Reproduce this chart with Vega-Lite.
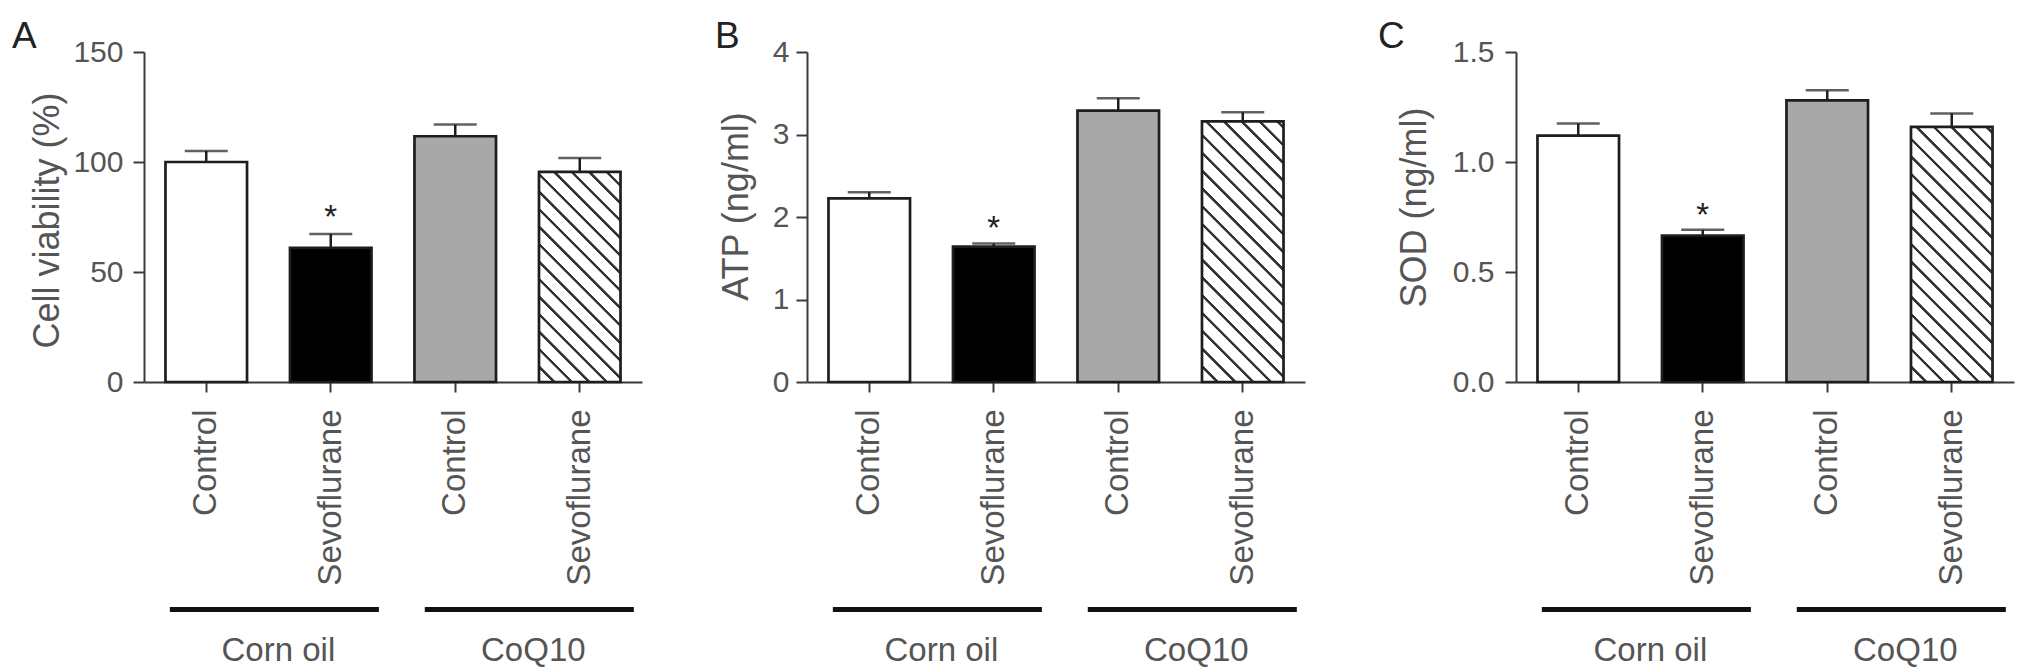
{
  "$schema": "https://vega.github.io/schema/vega-lite/v6.json",
  "padding": {"left": 12, "top": 18, "right": 5, "bottom": 0},
  "background": "white",
  "datasets": {
    "A": [
      {"group": "Corn oil", "cond": "Corn oil|Control", "value": 100, "upper": 105, "star": ""},
      {"group": "Corn oil", "cond": "Corn oil|Sevoflurane", "value": 61, "upper": 67.3, "star": "*"},
      {"group": "CoQ10", "cond": "CoQ10|Control", "value": 111.7, "upper": 117, "star": ""},
      {"group": "CoQ10", "cond": "CoQ10|Sevoflurane", "value": 95.5, "upper": 101.8, "star": ""}
    ],
    "B": [
      {"group": "Corn oil", "cond": "Corn oil|Control", "value": 2.225, "upper": 2.3, "star": ""},
      {"group": "Corn oil", "cond": "Corn oil|Sevoflurane", "value": 1.64, "upper": 1.68, "star": "*"},
      {"group": "CoQ10", "cond": "CoQ10|Control", "value": 3.29, "upper": 3.44, "star": ""},
      {"group": "CoQ10", "cond": "CoQ10|Sevoflurane", "value": 3.16, "upper": 3.27, "star": ""}
    ],
    "C": [
      {"group": "Corn oil", "cond": "Corn oil|Control", "value": 1.12, "upper": 1.175, "star": ""},
      {"group": "Corn oil", "cond": "Corn oil|Sevoflurane", "value": 0.666, "upper": 0.692, "star": "*"},
      {"group": "CoQ10", "cond": "CoQ10|Control", "value": 1.28, "upper": 1.326, "star": ""},
      {"group": "CoQ10", "cond": "CoQ10|Sevoflurane", "value": 1.16, "upper": 1.221, "star": ""}
    ],
    "groups": [
      {"group": "Corn oil"},
      {"group": "CoQ10"}
    ]
  },
  "hconcat": [
    {
      "spacing": 21,
      "vconcat": [
        {
          "width": 498, "height": 330,
          "title": {"text": "A", "dx": -132, "dy": 23},
          "data": {"name": "A"},
          "encoding": {
            "x": {"field": "cond", "type": "nominal", "sort": null,
              "scale": {"domain": ["Corn oil|Control", "Corn oil|Sevoflurane", "CoQ10|Control", "CoQ10|Sevoflurane"], "paddingInner": 0.345, "paddingOuter": 0.1725},
              "axis": {"title": null, "labelAngle": -90, "labelFontSize": 33, "tickSize": 10, "labelPadding": 17, "labelExpr": "split(datum.label, '|')[1]"}}
          },
          "layer": [
            {
              "mark": {"type": "bar", "stroke": "#1e1e1e", "strokeWidth": 2.7},
              "encoding": {
                "y": {"field": "value", "type": "quantitative", "title": "Cell viability (%)",
                  "scale": {"domain": [0, 150], "nice": false},
                  "axis": {"values": [0, 50, 100, 150], "format": "d", "labelPadding": 10, "titlePadding": 6, "titleY": 168}},
                "fill": {
                  "condition": [
                    {"test": "datum.cond === 'Corn oil|Sevoflurane'", "value": "#000000"},
                    {"test": "datum.cond === 'CoQ10|Control'", "value": "#a8a8a8"},
                    {"test": "datum.cond === 'CoQ10|Sevoflurane'", "value": {"gradient": "linear", "x1": 0, "y1": 1, "x2": 0.4686, "y2": -0.2064, "stops": [
                      {"offset": 0, "color": "#ffffff"}, {"offset": 0.0456, "color": "#ffffff"}, {"offset": 0.048, "color": "#333333"}, {"offset": 0.0576, "color": "#333333"},
                      {"offset": 0.06, "color": "#ffffff"}, {"offset": 0.1056, "color": "#ffffff"}, {"offset": 0.108, "color": "#333333"}, {"offset": 0.1176, "color": "#333333"},
                      {"offset": 0.12, "color": "#ffffff"}, {"offset": 0.1656, "color": "#ffffff"}, {"offset": 0.168, "color": "#333333"}, {"offset": 0.1776, "color": "#333333"},
                      {"offset": 0.18, "color": "#ffffff"}, {"offset": 0.2256, "color": "#ffffff"}, {"offset": 0.228, "color": "#333333"}, {"offset": 0.2376, "color": "#333333"},
                      {"offset": 0.24, "color": "#ffffff"}, {"offset": 0.2856, "color": "#ffffff"}, {"offset": 0.288, "color": "#333333"}, {"offset": 0.2976, "color": "#333333"},
                      {"offset": 0.30, "color": "#ffffff"}, {"offset": 0.3456, "color": "#ffffff"}, {"offset": 0.348, "color": "#333333"}, {"offset": 0.3576, "color": "#333333"},
                      {"offset": 0.36, "color": "#ffffff"}, {"offset": 0.4056, "color": "#ffffff"}, {"offset": 0.408, "color": "#333333"}, {"offset": 0.4176, "color": "#333333"},
                      {"offset": 0.42, "color": "#ffffff"}, {"offset": 0.4656, "color": "#ffffff"}, {"offset": 0.468, "color": "#333333"}, {"offset": 0.4776, "color": "#333333"},
                      {"offset": 0.48, "color": "#ffffff"}, {"offset": 0.5256, "color": "#ffffff"}, {"offset": 0.528, "color": "#333333"}, {"offset": 0.5376, "color": "#333333"},
                      {"offset": 0.54, "color": "#ffffff"}, {"offset": 0.5856, "color": "#ffffff"}, {"offset": 0.588, "color": "#333333"}, {"offset": 0.5976, "color": "#333333"},
                      {"offset": 0.60, "color": "#ffffff"}, {"offset": 0.6456, "color": "#ffffff"}, {"offset": 0.648, "color": "#333333"}, {"offset": 0.6576, "color": "#333333"},
                      {"offset": 0.66, "color": "#ffffff"}, {"offset": 0.7056, "color": "#ffffff"}, {"offset": 0.708, "color": "#333333"}, {"offset": 0.7176, "color": "#333333"},
                      {"offset": 0.72, "color": "#ffffff"}, {"offset": 0.7656, "color": "#ffffff"}, {"offset": 0.768, "color": "#333333"}, {"offset": 0.7776, "color": "#333333"},
                      {"offset": 0.78, "color": "#ffffff"}, {"offset": 0.8256, "color": "#ffffff"}, {"offset": 0.828, "color": "#333333"}, {"offset": 0.8376, "color": "#333333"},
                      {"offset": 0.84, "color": "#ffffff"}, {"offset": 0.8856, "color": "#ffffff"}, {"offset": 0.888, "color": "#333333"}, {"offset": 0.8976, "color": "#333333"},
                      {"offset": 0.90, "color": "#ffffff"}, {"offset": 0.9456, "color": "#ffffff"}, {"offset": 0.948, "color": "#333333"}, {"offset": 0.9576, "color": "#333333"},
                      {"offset": 0.96, "color": "#ffffff"}, {"offset": 1, "color": "#ffffff"}
                    ]}}
                  ],
                  "value": "#ffffff"
                }
              }
            },
            {
              "mark": {"type": "rule", "color": "#1e1e1e", "strokeWidth": 2.5},
              "encoding": {"y": {"field": "value", "type": "quantitative", "title": "Cell viability (%)"}, "y2": {"field": "upper"}}
            },
            {
              "mark": {"type": "tick", "color": "#1e1e1e", "thickness": 2.5, "size": 43},
              "encoding": {"y": {"field": "upper", "type": "quantitative", "title": "Cell viability (%)"}}
            },
            {
              "mark": {"type": "text", "fontSize": 33, "color": "#222222", "baseline": "alphabetic", "dy": -6},
              "encoding": {"y": {"field": "upper", "type": "quantitative", "title": "Cell viability (%)"}, "text": {"field": "star"}}
            }
          ]
        },
        {
          "width": 498, "height": 5,
          "data": {"name": "groups"},
          "mark": {"type": "bar", "color": "#111111"},
          "encoding": {
            "x": {"field": "group", "type": "nominal", "sort": null,
              "scale": {"domain": ["Corn oil", "CoQ10"], "paddingInner": 0.18, "paddingOuter": 0.0667, "align": 0.76},
              "axis": {"title": null, "domain": false, "ticks": false, "tickSize": 0, "labelAngle": 0, "labelFontSize": 33, "labelPadding": 22, "labelOffset": 4}}
          }
        }
      ]
    },
    {
      "spacing": 21,
      "vconcat": [
        {
          "width": 498, "height": 330,
          "title": {"text": "B", "dx": -92, "dy": 23},
          "data": {"name": "B"},
          "encoding": {
            "x": {"field": "cond", "type": "nominal", "sort": null,
              "scale": {"domain": ["Corn oil|Control", "Corn oil|Sevoflurane", "CoQ10|Control", "CoQ10|Sevoflurane"], "paddingInner": 0.345, "paddingOuter": 0.1725},
              "axis": {"title": null, "labelAngle": -90, "labelFontSize": 33, "tickSize": 10, "labelPadding": 17, "labelExpr": "split(datum.label, '|')[1]"}}
          },
          "layer": [
            {
              "mark": {"type": "bar", "stroke": "#1e1e1e", "strokeWidth": 2.7},
              "encoding": {
                "y": {"field": "value", "type": "quantitative", "title": "ATP (ng/ml)",
                  "scale": {"domain": [0, 4], "nice": false},
                  "axis": {"values": [0, 1, 2, 3, 4], "format": "d", "labelPadding": 7, "titlePadding": 17, "titleY": 154}},
                "fill": {
                  "condition": [
                    {"test": "datum.cond === 'Corn oil|Sevoflurane'", "value": "#000000"},
                    {"test": "datum.cond === 'CoQ10|Control'", "value": "#a8a8a8"},
                    {"test": "datum.cond === 'CoQ10|Sevoflurane'", "value": {"gradient": "linear", "x1": 0, "y1": 1, "x2": 0.3743, "y2": -0.1958, "stops": [
                      {"offset": 0, "color": "#ffffff"}, {"offset": 0.0395, "color": "#ffffff"}, {"offset": 0.0416, "color": "#333333"}, {"offset": 0.0499, "color": "#333333"},
                      {"offset": 0.052, "color": "#ffffff"}, {"offset": 0.0915, "color": "#ffffff"}, {"offset": 0.0936, "color": "#333333"}, {"offset": 0.1019, "color": "#333333"},
                      {"offset": 0.104, "color": "#ffffff"}, {"offset": 0.1435, "color": "#ffffff"}, {"offset": 0.1456, "color": "#333333"}, {"offset": 0.1539, "color": "#333333"},
                      {"offset": 0.156, "color": "#ffffff"}, {"offset": 0.1955, "color": "#ffffff"}, {"offset": 0.1976, "color": "#333333"}, {"offset": 0.2059, "color": "#333333"},
                      {"offset": 0.208, "color": "#ffffff"}, {"offset": 0.2475, "color": "#ffffff"}, {"offset": 0.2496, "color": "#333333"}, {"offset": 0.2579, "color": "#333333"},
                      {"offset": 0.26, "color": "#ffffff"}, {"offset": 0.2995, "color": "#ffffff"}, {"offset": 0.3016, "color": "#333333"}, {"offset": 0.3099, "color": "#333333"},
                      {"offset": 0.312, "color": "#ffffff"}, {"offset": 0.3515, "color": "#ffffff"}, {"offset": 0.3536, "color": "#333333"}, {"offset": 0.3619, "color": "#333333"},
                      {"offset": 0.364, "color": "#ffffff"}, {"offset": 0.4035, "color": "#ffffff"}, {"offset": 0.4056, "color": "#333333"}, {"offset": 0.4139, "color": "#333333"},
                      {"offset": 0.416, "color": "#ffffff"}, {"offset": 0.4555, "color": "#ffffff"}, {"offset": 0.4576, "color": "#333333"}, {"offset": 0.4659, "color": "#333333"},
                      {"offset": 0.468, "color": "#ffffff"}, {"offset": 0.5075, "color": "#ffffff"}, {"offset": 0.5096, "color": "#333333"}, {"offset": 0.5179, "color": "#333333"},
                      {"offset": 0.52, "color": "#ffffff"}, {"offset": 0.5595, "color": "#ffffff"}, {"offset": 0.5616, "color": "#333333"}, {"offset": 0.5699, "color": "#333333"},
                      {"offset": 0.572, "color": "#ffffff"}, {"offset": 0.6115, "color": "#ffffff"}, {"offset": 0.6136, "color": "#333333"}, {"offset": 0.6219, "color": "#333333"},
                      {"offset": 0.624, "color": "#ffffff"}, {"offset": 0.6635, "color": "#ffffff"}, {"offset": 0.6656, "color": "#333333"}, {"offset": 0.6739, "color": "#333333"},
                      {"offset": 0.676, "color": "#ffffff"}, {"offset": 0.7155, "color": "#ffffff"}, {"offset": 0.7176, "color": "#333333"}, {"offset": 0.7259, "color": "#333333"},
                      {"offset": 0.728, "color": "#ffffff"}, {"offset": 0.7675, "color": "#ffffff"}, {"offset": 0.7696, "color": "#333333"}, {"offset": 0.7779, "color": "#333333"},
                      {"offset": 0.78, "color": "#ffffff"}, {"offset": 0.8195, "color": "#ffffff"}, {"offset": 0.8216, "color": "#333333"}, {"offset": 0.8299, "color": "#333333"},
                      {"offset": 0.832, "color": "#ffffff"}, {"offset": 0.8715, "color": "#ffffff"}, {"offset": 0.8736, "color": "#333333"}, {"offset": 0.8819, "color": "#333333"},
                      {"offset": 0.884, "color": "#ffffff"}, {"offset": 0.9235, "color": "#ffffff"}, {"offset": 0.9256, "color": "#333333"}, {"offset": 0.9339, "color": "#333333"},
                      {"offset": 0.936, "color": "#ffffff"}, {"offset": 0.9755, "color": "#ffffff"}, {"offset": 0.9776, "color": "#333333"}, {"offset": 0.9859, "color": "#333333"},
                      {"offset": 0.988, "color": "#ffffff"}, {"offset": 1, "color": "#ffffff"}
                    ]}}
                  ],
                  "value": "#ffffff"
                }
              }
            },
            {
              "mark": {"type": "rule", "color": "#1e1e1e", "strokeWidth": 2.5},
              "encoding": {"y": {"field": "value", "type": "quantitative", "title": "ATP (ng/ml)"}, "y2": {"field": "upper"}}
            },
            {
              "mark": {"type": "tick", "color": "#1e1e1e", "thickness": 2.5, "size": 43},
              "encoding": {"y": {"field": "upper", "type": "quantitative", "title": "ATP (ng/ml)"}}
            },
            {
              "mark": {"type": "text", "fontSize": 33, "color": "#222222", "baseline": "alphabetic", "dy": -4},
              "encoding": {"y": {"field": "upper", "type": "quantitative", "title": "ATP (ng/ml)"}, "text": {"field": "star"}}
            }
          ]
        },
        {
          "width": 498, "height": 5,
          "data": {"name": "groups"},
          "mark": {"type": "bar", "color": "#111111"},
          "encoding": {
            "x": {"field": "group", "type": "nominal", "sort": null,
              "scale": {"domain": ["Corn oil", "CoQ10"], "paddingInner": 0.18, "paddingOuter": 0.0667, "align": 0.76},
              "axis": {"title": null, "domain": false, "ticks": false, "tickSize": 0, "labelAngle": 0, "labelFontSize": 33, "labelPadding": 22, "labelOffset": 4}}
          }
        }
      ]
    },
    {
      "spacing": 21,
      "vconcat": [
        {
          "width": 498, "height": 330,
          "title": {"text": "C", "dx": -138, "dy": 23},
          "data": {"name": "C"},
          "encoding": {
            "x": {"field": "cond", "type": "nominal", "sort": null,
              "scale": {"domain": ["Corn oil|Control", "Corn oil|Sevoflurane", "CoQ10|Control", "CoQ10|Sevoflurane"], "paddingInner": 0.345, "paddingOuter": 0.1725},
              "axis": {"title": null, "labelAngle": -90, "labelFontSize": 33, "tickSize": 10, "labelPadding": 17, "labelExpr": "split(datum.label, '|')[1]"}}
          },
          "layer": [
            {
              "mark": {"type": "bar", "stroke": "#1e1e1e", "strokeWidth": 2.7},
              "encoding": {
                "y": {"field": "value", "type": "quantitative", "title": "SOD (ng/ml)",
                  "scale": {"domain": [0, 1.5], "nice": false},
                  "axis": {"values": [0, 0.5, 1, 1.5], "format": ".1f", "labelPadding": 11, "titlePadding": 19, "titleY": 155}},
                "fill": {
                  "condition": [
                    {"test": "datum.cond === 'Corn oil|Sevoflurane'", "value": "#000000"},
                    {"test": "datum.cond === 'CoQ10|Control'", "value": "#a8a8a8"},
                    {"test": "datum.cond === 'CoQ10|Sevoflurane'", "value": {"gradient": "linear", "x1": 0, "y1": 1, "x2": 0.3828, "y2": -0.1973, "stops": [
                      {"offset": 0, "color": "#ffffff"}, {"offset": 0.0395, "color": "#ffffff"}, {"offset": 0.0416, "color": "#333333"}, {"offset": 0.0499, "color": "#333333"},
                      {"offset": 0.052, "color": "#ffffff"}, {"offset": 0.0915, "color": "#ffffff"}, {"offset": 0.0936, "color": "#333333"}, {"offset": 0.1019, "color": "#333333"},
                      {"offset": 0.104, "color": "#ffffff"}, {"offset": 0.1435, "color": "#ffffff"}, {"offset": 0.1456, "color": "#333333"}, {"offset": 0.1539, "color": "#333333"},
                      {"offset": 0.156, "color": "#ffffff"}, {"offset": 0.1955, "color": "#ffffff"}, {"offset": 0.1976, "color": "#333333"}, {"offset": 0.2059, "color": "#333333"},
                      {"offset": 0.208, "color": "#ffffff"}, {"offset": 0.2475, "color": "#ffffff"}, {"offset": 0.2496, "color": "#333333"}, {"offset": 0.2579, "color": "#333333"},
                      {"offset": 0.26, "color": "#ffffff"}, {"offset": 0.2995, "color": "#ffffff"}, {"offset": 0.3016, "color": "#333333"}, {"offset": 0.3099, "color": "#333333"},
                      {"offset": 0.312, "color": "#ffffff"}, {"offset": 0.3515, "color": "#ffffff"}, {"offset": 0.3536, "color": "#333333"}, {"offset": 0.3619, "color": "#333333"},
                      {"offset": 0.364, "color": "#ffffff"}, {"offset": 0.4035, "color": "#ffffff"}, {"offset": 0.4056, "color": "#333333"}, {"offset": 0.4139, "color": "#333333"},
                      {"offset": 0.416, "color": "#ffffff"}, {"offset": 0.4555, "color": "#ffffff"}, {"offset": 0.4576, "color": "#333333"}, {"offset": 0.4659, "color": "#333333"},
                      {"offset": 0.468, "color": "#ffffff"}, {"offset": 0.5075, "color": "#ffffff"}, {"offset": 0.5096, "color": "#333333"}, {"offset": 0.5179, "color": "#333333"},
                      {"offset": 0.52, "color": "#ffffff"}, {"offset": 0.5595, "color": "#ffffff"}, {"offset": 0.5616, "color": "#333333"}, {"offset": 0.5699, "color": "#333333"},
                      {"offset": 0.572, "color": "#ffffff"}, {"offset": 0.6115, "color": "#ffffff"}, {"offset": 0.6136, "color": "#333333"}, {"offset": 0.6219, "color": "#333333"},
                      {"offset": 0.624, "color": "#ffffff"}, {"offset": 0.6635, "color": "#ffffff"}, {"offset": 0.6656, "color": "#333333"}, {"offset": 0.6739, "color": "#333333"},
                      {"offset": 0.676, "color": "#ffffff"}, {"offset": 0.7155, "color": "#ffffff"}, {"offset": 0.7176, "color": "#333333"}, {"offset": 0.7259, "color": "#333333"},
                      {"offset": 0.728, "color": "#ffffff"}, {"offset": 0.7675, "color": "#ffffff"}, {"offset": 0.7696, "color": "#333333"}, {"offset": 0.7779, "color": "#333333"},
                      {"offset": 0.78, "color": "#ffffff"}, {"offset": 0.8195, "color": "#ffffff"}, {"offset": 0.8216, "color": "#333333"}, {"offset": 0.8299, "color": "#333333"},
                      {"offset": 0.832, "color": "#ffffff"}, {"offset": 0.8715, "color": "#ffffff"}, {"offset": 0.8736, "color": "#333333"}, {"offset": 0.8819, "color": "#333333"},
                      {"offset": 0.884, "color": "#ffffff"}, {"offset": 0.9235, "color": "#ffffff"}, {"offset": 0.9256, "color": "#333333"}, {"offset": 0.9339, "color": "#333333"},
                      {"offset": 0.936, "color": "#ffffff"}, {"offset": 0.9755, "color": "#ffffff"}, {"offset": 0.9776, "color": "#333333"}, {"offset": 0.9859, "color": "#333333"},
                      {"offset": 0.988, "color": "#ffffff"}, {"offset": 1, "color": "#ffffff"}
                    ]}}
                  ],
                  "value": "#ffffff"
                }
              }
            },
            {
              "mark": {"type": "rule", "color": "#1e1e1e", "strokeWidth": 2.5},
              "encoding": {"y": {"field": "value", "type": "quantitative", "title": "SOD (ng/ml)"}, "y2": {"field": "upper"}}
            },
            {
              "mark": {"type": "tick", "color": "#1e1e1e", "thickness": 2.5, "size": 43},
              "encoding": {"y": {"field": "upper", "type": "quantitative", "title": "SOD (ng/ml)"}}
            },
            {
              "mark": {"type": "text", "fontSize": 33, "color": "#222222", "baseline": "alphabetic", "dy": -4},
              "encoding": {"y": {"field": "upper", "type": "quantitative", "title": "SOD (ng/ml)"}, "text": {"field": "star"}}
            }
          ]
        },
        {
          "width": 498, "height": 5,
          "data": {"name": "groups"},
          "mark": {"type": "bar", "color": "#111111"},
          "encoding": {
            "x": {"field": "group", "type": "nominal", "sort": null,
              "scale": {"domain": ["Corn oil", "CoQ10"], "paddingInner": 0.18, "paddingOuter": 0.0667, "align": 0.76},
              "axis": {"title": null, "domain": false, "ticks": false, "tickSize": 0, "labelAngle": 0, "labelFontSize": 33, "labelPadding": 22, "labelOffset": 4}}
          }
        }
      ]
    }
  ],
  "spacing": 73,
  "config": {
    "view": {"stroke": null},
    "font": "Liberation Sans",
    "axis": {
      "grid": false,
      "domainColor": "#3a3a3a", "domainWidth": 2,
      "tickColor": "#3a3a3a", "tickWidth": 2,
      "labelColor": "#555555", "titleColor": "#555555",
      "labelFont": "Liberation Sans", "titleFont": "Liberation Sans",
      "titleFontWeight": "normal", "titleFontSize": 36
    },
    "axisY": {"labelFontSize": 30, "tickSize": 11},
    "title": {"fontSize": 37, "fontWeight": "normal", "color": "#222222", "anchor": "start", "frame": "group", "font": "Liberation Sans"}
  }
}
